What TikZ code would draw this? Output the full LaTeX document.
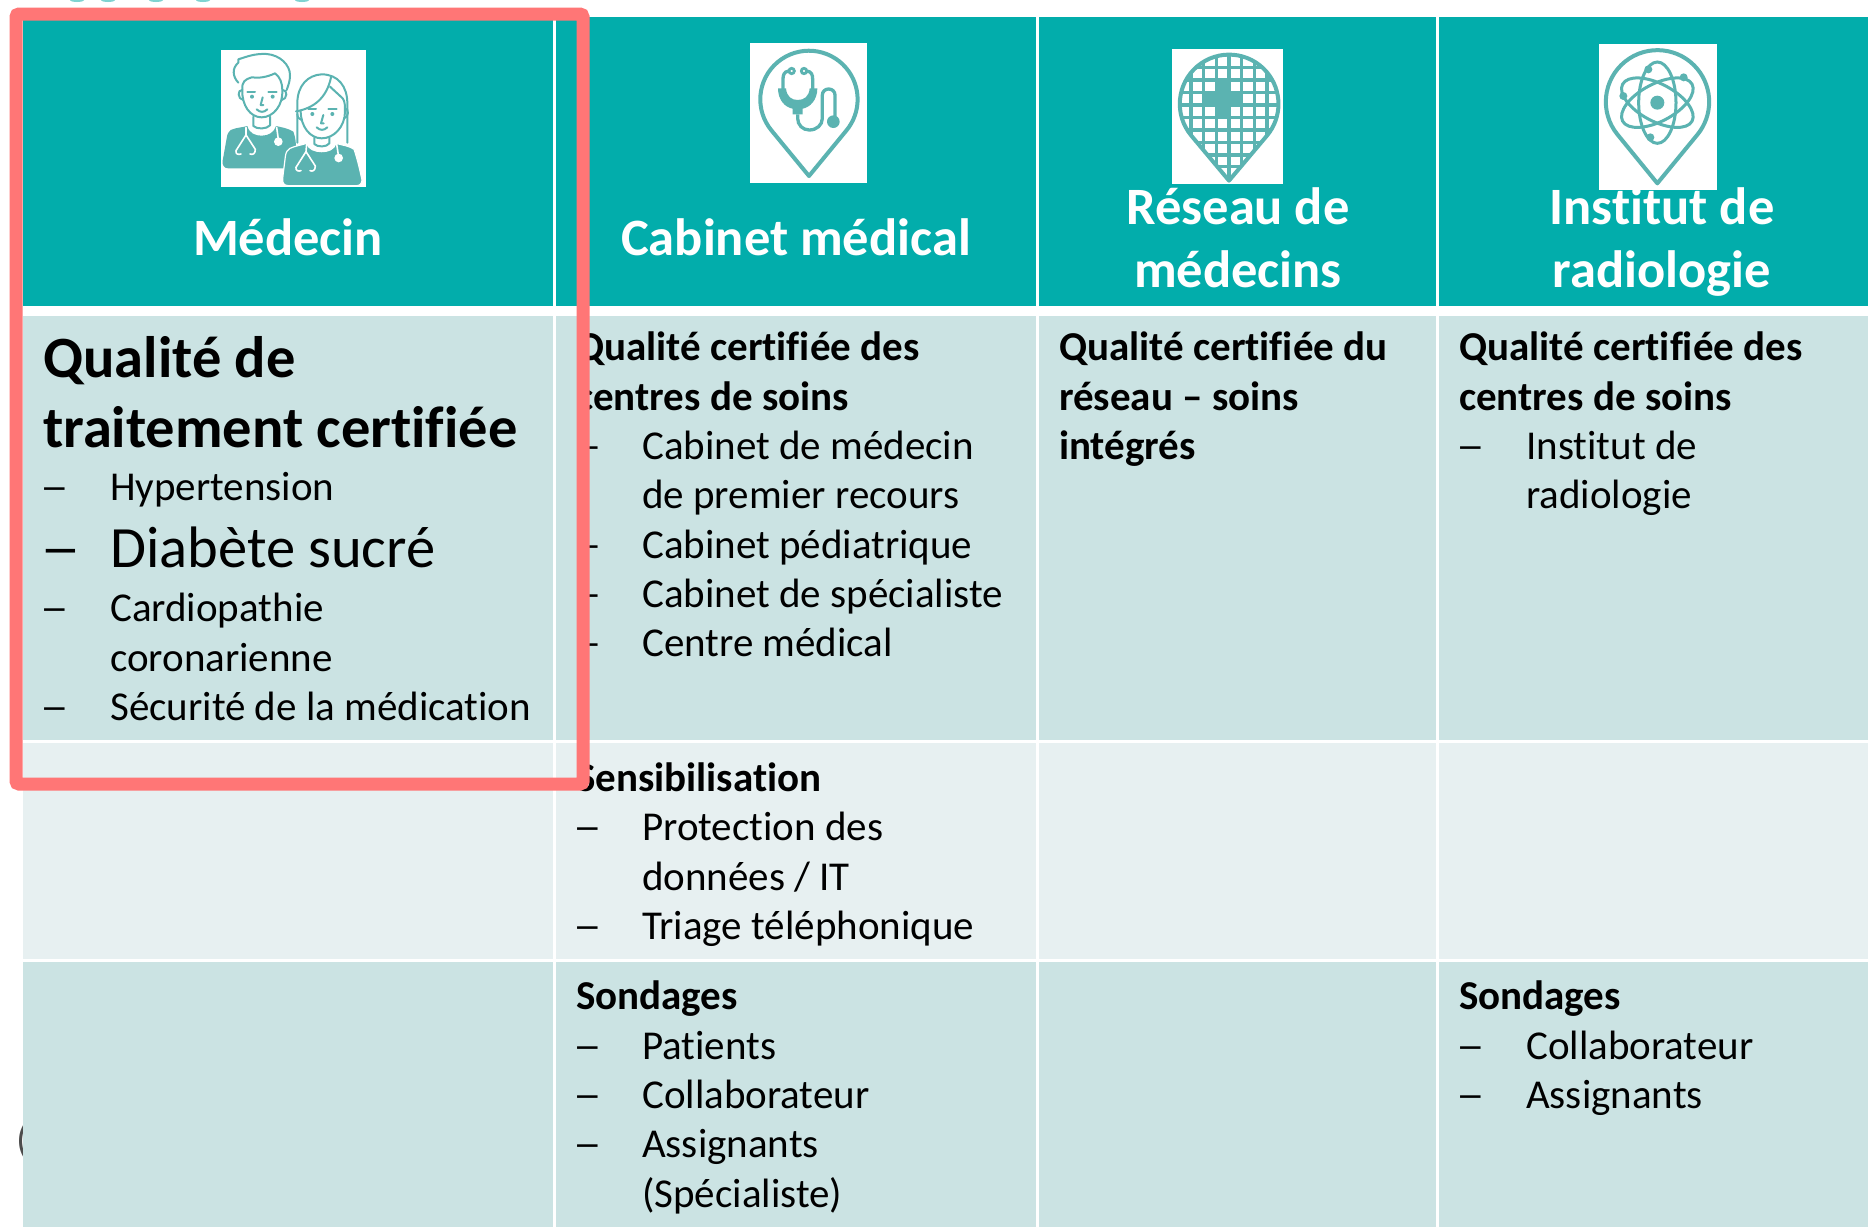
\documentclass[tikz,border=0pt]{standalone}
\usepackage{graphicx}
\usepackage{fontspec}
\setmainfont[Ligatures=NoCommon]{Carlito}
\definecolor{tealhead}{HTML}{02ADAB}
\definecolor{rowdark}{HTML}{CBE3E3}
\definecolor{rowlight}{HTML}{E7F0F1}
\definecolor{icon}{HTML}{5BB3B1}
\definecolor{redbox}{HTML}{FF7676}
\definecolor{topfrag}{HTML}{7FD3D1}
\newcommand{\longdash}{\scalebox{1.4}[1]{–}}
\tikzset{
  header/.style={fill=tealhead},
  dark/.style={fill=rowdark},
  light/.style={fill=rowlight},
  iconbox/.style={fill=white},
  hd/.style={text=white,inner sep=0pt,anchor=base,font=\fontsize{52.5}{52}\selectfont\bfseries},
  body/.style={inner sep=0pt,anchor=base west,text=black,font=\fontsize{41}{41}\selectfont},
  bodyb/.style={body,font=\fontsize{41}{41}\selectfont\bfseries},
  big/.style={inner sep=0pt,anchor=base west,text=black,font=\fontsize{58.5}{58}\selectfont},
  bigb/.style={big,font=\fontsize{58.5}{58}\selectfont\bfseries},
  line/.style={draw=icon,line width=2pt,line cap=round,line join=round,fill=none},
  wline/.style={draw=white,line width=1.6pt,line cap=round,line join=round,fill=none},
  pinline/.style={draw=icon,line width=4pt,line join=round},
}
\begin{document}
\begin{tikzpicture}[x=1pt,y=-1pt]
\useasboundingbox (0,0) rectangle (1868,1227);
\clip (0,0) rectangle (1868,1227);
\fill[white] (0,0) rectangle (1868,1227);
% fragments cut by the top edge
\foreach \fx in {77,108,156,203,302}{\fill[topfrag] (\fx,0) ellipse [x radius=7,y radius=2];}
\node[inner sep=0pt,anchor=base west,text=black!70,font=\fontsize{41}{41}\selectfont] (paren) at (16,1153) {(};
% table
\fill[header] (23,17) rectangle (553,306);
\fill[header] (556,17) rectangle (1036,306);
\fill[header] (1039,17) rectangle (1436,306);
\fill[header] (1439,17) rectangle (1868,306);
\fill[dark] (23,316) rectangle (553,740);
\fill[dark] (556,316) rectangle (1036,740);
\fill[dark] (1039,316) rectangle (1436,740);
\fill[dark] (1439,316) rectangle (1868,740);
\fill[light] (23,743) rectangle (553,959);
\fill[light] (556,743) rectangle (1036,959);
\fill[light] (1039,743) rectangle (1436,959);
\fill[light] (1439,743) rectangle (1868,959);
\fill[dark] (23,962) rectangle (553,1227);
\fill[dark] (556,962) rectangle (1036,1227);
\fill[dark] (1039,962) rectangle (1436,1227);
\fill[dark] (1439,962) rectangle (1868,1227);
% icon: doctors
\fill[iconbox] (221,50) rectangle (366,187);
\begin{scope}[shift={(210,40)},scale=1/3]
  \fill[icon] (62,270) .. controls (80,262) and (100,262) .. (112,258) .. controls (118,280) and (135,287) .. (155,287) .. controls (175,287) and (192,278) .. (198,258) .. controls (215,262) and (235,265) .. (250,275) .. controls (256,290) and (258,310) .. (258,320) -- (225,385) -- (55,385) .. controls (42,385) and (36,375) .. (38,362) -- (50,295) .. controls (52,282) and (55,275) .. (62,270) -- cycle;
  \draw[line] (85,128) .. controls (68,110) and (65,85) .. (85,68) -- (85,58) .. controls (110,50) and (135,40) .. (170,42) .. controls (210,45) and (240,75) .. (240,105) .. controls (240,125) and (235,135) .. (230,150);
  \draw[line] (97,150) .. controls (95,125) and (105,118) .. (125,112) .. controls (145,115) and (170,112) .. (195,100) .. controls (210,110) and (217,130) .. (217,150) .. controls (220,195) and (190,232) .. (155,232) .. controls (120,232) and (95,195) .. (97,150) -- cycle;
  \draw[line] (97,150) .. controls (82,148) and (82,178) .. (100,180);
  \draw[line] (218,150) .. controls (233,148) and (233,178) .. (215,180);
  \fill[icon] (126,170) circle (6); \fill[icon] (188,170) circle (6);
  \draw[line] (112,155) -- (135,155); \draw[line] (175,155) -- (200,155);
  \draw[line] (158,172) -- (152,195) -- (160,195);
  \draw[line] (140,208) .. controls (150,218) and (162,218) .. (172,208);
  \draw[line] (130,230) -- (130,258) .. controls (140,268) and (170,268) .. (180,256) -- (180,230);
  \draw[wline] (108,262) -- (108,285) -- (78,332) .. controls (76,342) and (85,345) .. (93,342);
  \draw[wline] (108,285) -- (136,328) .. controls (136,342) and (128,345) .. (120,342);
  \draw[wline] (200,262) -- (205,298);
  \fill[white] (205,305) circle (13);
  % woman
  \fill[white] (262,330) -- (262,190) .. controls (262,135) and (295,105) .. (335,103) .. controls (385,103) and (412,140) .. (412,190) -- (412,330) -- cycle;
  \fill[icon,draw=white,line width=1.2pt] (240,325) .. controls (255,318) and (275,315) .. (290,310) .. controls (296,328) and (315,335) .. (335,335) .. controls (355,335) and (372,328) .. (378,310) .. controls (395,315) and (420,318) .. (432,328) .. controls (440,350) and (450,390) .. (456,420) .. controls (456,430) and (450,437) .. (440,437) -- (235,437) .. controls (222,437) and (216,428) .. (218,415) -- (226,350) .. controls (228,335) and (232,330) .. (240,325) -- cycle;
  \draw[line] (262,308) -- (262,190) .. controls (262,135) and (295,105) .. (335,103) .. controls (385,103) and (412,140) .. (412,190) -- (412,308);
  \draw[line] (258,214) .. controls (310,205) and (350,175) .. (363,112);
  \draw[line] (360,140) -- (398,175) .. controls (405,185) and (405,195) .. (405,215) .. controls (405,260) and (372,295) .. (335,295) .. controls (300,295) and (272,260) .. (272,212);
  \draw[line] (262,222) .. controls (262,232) and (268,238) .. (275,240);
  \draw[line] (405,205) .. controls (417,205) and (417,232) .. (402,235);
  \fill[icon] (307,222) circle (6); \fill[icon] (367,222) circle (6);
  \draw[line] (295,207) -- (318,207); \draw[line] (355,207) -- (380,207);
  \draw[line] (340,225) -- (333,250) -- (341,250);
  \draw[line] (320,262) .. controls (330,272) and (342,272) .. (352,262);
  \draw[line] (313,293) -- (313,312) .. controls (322,322) and (350,322) .. (358,310) -- (358,293);
  \draw[wline] (290,312) -- (288,335) -- (258,382) .. controls (256,392) and (265,395) .. (273,392);
  \draw[wline] (288,335) -- (316,378) .. controls (316,392) and (308,395) .. (300,392);
  \draw[wline] (380,312) -- (385,345);
  \fill[white] (386,354) circle (13);
\end{scope}
% icon: stethoscope pin
\fill[iconbox] (750,43) rectangle (867,183);
\begin{scope}[shift={(700,20)},scale=1/3]
  \draw[pinline] (327,468) -- (215,332) arc[start angle=140,end angle=400,radius=146] -- cycle;
  \draw[draw=icon,line width=2.8pt] (275,153) circle (8);
  \draw[draw=icon,line width=2.8pt] (312,153) circle (8);
  \draw[draw=icon,line width=3.3pt] (266,153) .. controls (252,155) and (249,165) .. (249,178) -- (249,210);
  \draw[draw=icon,line width=3.3pt] (321,153) .. controls (335,155) and (338,165) .. (338,178) -- (338,210);
  \fill[icon] (234,205) -- (258,205) .. controls (260,230) and (275,240) .. (293,240) .. controls (312,240) and (327,230) .. (329,205) -- (352,205) .. controls (352,240) and (330,262) .. (308,266) -- (308,283) -- (278,283) -- (278,266) .. controls (255,262) and (234,240) .. (234,205) -- cycle;
  \draw[draw=icon,line width=3.3pt] (293,283) -- (293,295) .. controls (293,315) and (308,330) .. (328,330) .. controls (350,330) and (367,315) .. (367,295) -- (367,225) .. controls (367,215) and (375,207) .. (386,207) .. controls (397,207) and (405,215) .. (405,225) -- (405,290);
  \fill[icon] (400,305) circle (19);
\end{scope}
% icon: network pin
\fill[iconbox] (1172,49) rectangle (1283,184);
\begin{scope}[shift={(1140,20)},scale=1/3]
  \begin{scope}
    \clip (267,482) -- (154,347) arc[start angle=140,end angle=400,radius=148] -- cycle;
    \foreach \gx in {153,191,229,267,305,343,381}{\draw[icon,line width=3.2pt] (\gx,100) -- (\gx,490);}
    \foreach \gy in {143,180,218,255,292,330,367,405,440}{\draw[icon,line width=3.2pt] (100,\gy) -- (430,\gy);}
  \end{scope}
  \fill[icon] (229,180) rectangle (267,292);
  \fill[icon] (191,212) rectangle (305,257);
  \draw[pinline] (267,482) -- (154,347) arc[start angle=140,end angle=400,radius=148] -- cycle;
\end{scope}
% icon: atom pin
\fill[iconbox] (1599,44) rectangle (1717,190);
\begin{scope}[shift={(1570,20)},scale=1/3]
  \draw[pinline] (262,490) -- (142,343) arc[start angle=141,end angle=399,radius=155] -- cycle;
  \fill[icon] (262,248) circle (21);
  \draw[icon,line width=3pt] (262,248) ellipse [x radius=56,y radius=122];
  \begin{scope}[shift={(262,248)},rotate=-28]
    \draw[icon,line width=3pt] (0,0) ellipse [x radius=118,y radius=56];
  \end{scope}
  \begin{scope}[shift={(262,248)},rotate=28]
    \draw[icon,line width=3pt] (0,0) ellipse [x radius=118,y radius=56];
  \end{scope}
  \fill[icon] (235,148) circle (12);
  \fill[icon] (341,172) circle (12);
  \fill[icon] (160,228) circle (12);
  \fill[icon] (241,352) circle (12);
\end{scope}
% headers
\node[hd] (h1) at (288,255) {Médecin};
\node[hd] (h2) at (796,255) {Cabinet médical};
\node[hd] (h3a) at (1238,224) {Réseau de};
\node[hd] (h3b) at (1238,287) {médecins};
\node[hd] (h4a) at (1662,224) {Institut de};
\node[hd] (h4b) at (1662,287) {radiologie};
% column 1
\node[bigb] (a1) at (43,377) {Qualité de};
\node[bigb] (a2) at (43,447) {traitement certifiée};
\node[body] (a3d) at (40,500) {\longdash};
\node[body] (a3) at (110,500) {Hypertension};
\node[big] (a4d) at (40,567) {\longdash};
\node[big] (a4) at (110,567) {Diabète sucré};
\node[body] (a5d) at (40,621) {\longdash};
\node[body] (a5) at (110,621) {Cardiopathie};
\node[body] (a6) at (110,671) {coronarienne};
\node[body] (a7d) at (40,720) {\longdash};
\node[body] (a7) at (110,720) {Sécurité de la médication};
% column 2
\node[bodyb] (b1) at (576,360) {Qualité certifiée des};
\node[bodyb] (b2) at (576,410) {centres de soins};
\node[body] (b3d) at (573,459) {\longdash};
\node[body] (b3) at (642,459) {Cabinet de médecin};
\node[body] (b4) at (642,508) {de premier recours};
\node[body] (b5d) at (573,558) {\longdash};
\node[body] (b5) at (642,558) {Cabinet pédiatrique};
\node[body] (b6d) at (573,607) {\longdash};
\node[body] (b6) at (642,607) {Cabinet de spécialiste};
\node[body] (b7d) at (573,656) {\longdash};
\node[body] (b7) at (642,656) {Centre médical};
\node[bodyb] (b8) at (576,791) {Sensibilisation};
\node[body] (b9d) at (573,840) {\longdash};
\node[body] (b9) at (642,840) {Protection des};
\node[body] (b10) at (642,890) {données / IT};
\node[body] (b11d) at (573,939) {\longdash};
\node[body] (b11) at (642,939) {Triage téléphonique};
\node[bodyb] (b12) at (576,1009) {Sondages};
\node[body] (b13d) at (573,1059) {\longdash};
\node[body] (b13) at (642,1059) {Patients};
\node[body] (b14d) at (573,1108) {\longdash};
\node[body] (b14) at (642,1108) {Collaborateur};
\node[body] (b15d) at (573,1157) {\longdash};
\node[body] (b15) at (642,1157) {Assignants};
\node[body] (b16) at (642,1207) {(Spécialiste)};
% column 3
\node[bodyb] (c1) at (1059,360) {Qualité certifiée du};
\node[bodyb] (c2) at (1059,410) {réseau – soins};
\node[bodyb] (c3) at (1059,459) {intégrés};
% column 4
\node[bodyb] (d1) at (1459,360) {Qualité certifiée des};
\node[bodyb] (d2) at (1459,410) {centres de soins};
\node[body] (d3d) at (1456,459) {\longdash};
\node[body] (d3) at (1526,459) {Institut de};
\node[body] (d4) at (1526,508) {radiologie};
\node[bodyb] (d5) at (1459,1009) {Sondages};
\node[body] (d6d) at (1456,1059) {\longdash};
\node[body] (d6) at (1526,1059) {Collaborateur};
\node[body] (d7d) at (1456,1108) {\longdash};
\node[body] (d7) at (1526,1108) {Assignants};
% highlight frame
\draw[draw=redbox,line width=13pt,rounded corners=3pt] (16,14) rectangle (583,784);
\end{tikzpicture}
\end{document}
